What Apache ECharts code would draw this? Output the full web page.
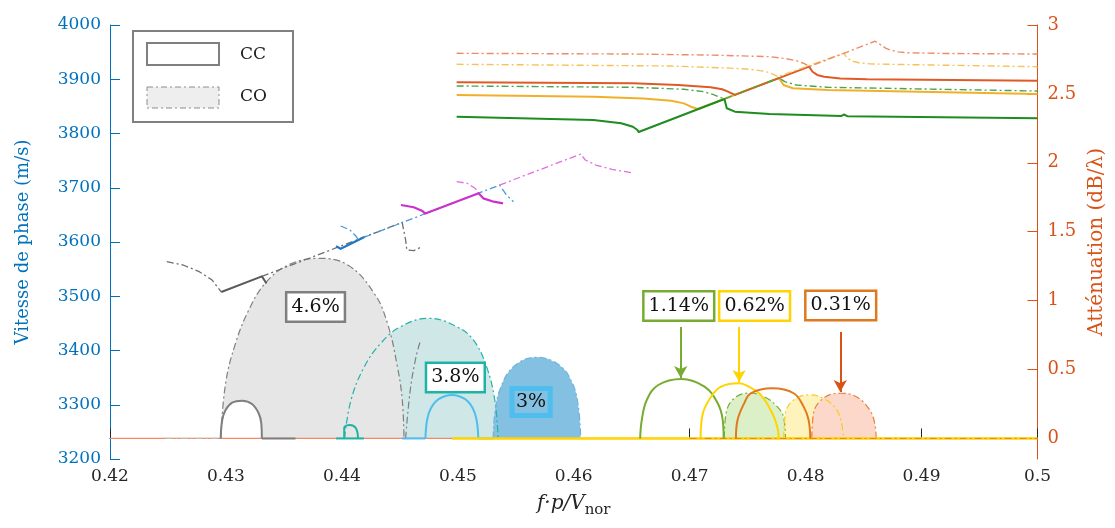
<!DOCTYPE html>
<html><head><meta charset="utf-8">
<script src="https://cdn.jsdelivr.net/npm/echarts@6/dist/echarts.min.js"></script>
<style>html,body{margin:0;padding:0;background:#fff}#c{width:1115px;height:528px}</style>
</head><body><div id="c"></div>
<script>
// ---------------- DATA ----------------
const xTicks = [0.42,0.43,0.44,0.45,0.46,0.47,0.48,0.49,0.5];
const leftTicks = [3200,3300,3400,3500,3600,3700,3800,3900,4000];
const rightTicks = [0,0.5,1,1.5,2,2.5,3];

// phase velocity curves (m/s)
const grayDashLeft = [[0.4249,3563.7],[0.4263,3557.6],[0.4277,3545.3],[0.4288,3530.0],[0.4296,3507.8]];
const graySolidDiag = [[0.4296,3507.8],[0.4331,3536.6],[0.4335,3523.5]];
const grayDashDiag = [[0.4331,3536.6],[0.4452,3636.0],[0.4455,3603.7],[0.4456,3585.3],[0.4462,3584.0],[0.4469,3591.3]];
const blueDashArc = [[0.4399,3629.5],[0.4407,3622.1],[0.4412,3611.1],[0.4414,3604.8]];
const blueSolid = [[0.4395,3592.0],[0.4399,3587.5],[0.4419,3608.7]];
const blueDashDiag = [[0.4419,3608.7],[0.4536,3704.9],[0.4542,3686.6],[0.4548,3674.3]];
const magentaSolid = [[0.4451,3668.2],[0.4462,3664.0],[0.4469,3657.7],[0.4472,3652.4],[0.4518,3689.7],[0.4522,3680.5],[0.4531,3674.3],[0.4539,3671.2]];
const magentaDashA = [[0.4499,3711.2],[0.4508,3708.2],[0.4515,3699.0],[0.4518,3689.7]];
const magentaDashB = [[0.4536,3704.9],[0.4606,3762.1],[0.4610,3751.2],[0.4619,3741.9],[0.4633,3734.0],[0.4650,3727.7]];
const redDash = [[0.4499,3947.8],[0.4651,3946.5],[0.4720,3944.5],[0.4769,3941.6],[0.4783,3938.0],[0.4792,3934.2],[0.4798,3929.5],[0.4801,3926.3],[0.4803,3923.2],[0.4860,3970.1],[0.4865,3963.1],[0.4869,3957.5],[0.4873,3953.9],[0.4880,3950.5],[0.4887,3948.9],[0.4920,3947.5],[0.5,3946.5]];
const redSolid = [[0.4499,3894.4],[0.4651,3892.5],[0.4690,3889.5],[0.4718,3885.2],[0.4728,3881.5],[0.4733,3877.1],[0.4739,3871.2],[0.4803,3923.2],[0.4806,3913.9],[0.4810,3908.0],[0.4816,3904.7],[0.4830,3901.5],[0.4853,3899.9],[0.5,3897.3]];
const yellowDash = [[0.4499,3927.6],[0.4684,3924.4],[0.4735,3920.5],[0.4752,3918.3],[0.4762,3915.5],[0.4769,3912.1],[0.4776,3904.7],[0.4777,3902.4],[0.4833,3948.0],[0.4836,3938.6],[0.4840,3933.5],[0.4846,3930.5],[0.4855,3928.5],[0.4870,3927.6],[0.5,3923.1]];
const yellowSolid = [[0.4499,3871.0],[0.4617,3867.8],[0.4660,3864.5],[0.4684,3860.5],[0.4695,3855.5],[0.4701,3849.4],[0.4707,3845.2],[0.4777,3902.4],[0.4781,3889.4],[0.4789,3883.3],[0.4819,3880.2],[0.5,3872.8]];
const greenDash = [[0.4499,3887.6],[0.4651,3885.2],[0.4695,3881.5],[0.4712,3877.1],[0.4720,3872.0],[0.4725,3867.8],[0.4730,3863.6],[0.4777,3902.4],[0.4782,3895.5],[0.4792,3889.4],[0.4819,3885.2],[0.5,3878.3]];
const greenSolid = [[0.4499,3831.0],[0.4617,3824.9],[0.4641,3818.8],[0.4651,3812.5],[0.4655,3806.5],[0.4656,3802.8],[0.4730,3863.6],[0.4732,3846.5],[0.4739,3840.2],[0.4769,3835.9],[0.4831,3832.4],[0.4833,3835.0],[0.4836,3832.0],[0.5,3828.0]];

// attenuation curves (dB/lambda)
const baseAll = [[0.42,0],[0.5,0]];
const grayBaseLeft = [[0.4248,0],[0.4296,0]];
const grayCO = [[0.42955,0],[0.42997,0.400],[0.43083,0.691],[0.43197,0.932],[0.43339,1.126],[0.43538,1.259],[0.43795,1.307],[0.44051,1.259],[0.44279,1.053],[0.44393,0.836],[0.44479,0.521],[0.44521,0.279],[0.44536,0]];
const grayCC = [[0.42955,0],[0.42968,0.134],[0.42997,0.207],[0.43054,0.260],[0.43140,0.274],[0.43225,0.250],[0.43282,0.183],[0.43305,0.110],[0.43310,0]];
const grayBase = [[0.4331,0],[0.4360,0]];
const grayArc2 = [[0.4455,0],[0.4459,0.352],[0.4464,0.593],[0.4468,0.715]];
const tealCC = [[0.4402,0],[0.4402,0.076],[0.4407,0.098],[0.4412,0.076],[0.4414,0]];
const tealBase = [[0.4395,0],[0.4419,0]];
const tealCO = [[0.44023,0],[0.44079,0.279],[0.44194,0.521],[0.44336,0.691],[0.44507,0.811],[0.44750,0.872],[0.44991,0.811],[0.45134,0.715],[0.45248,0.521],[0.45319,0.279],[0.45348,0]];
const blueCC = [[0.44721,0],[0.44735,0.134],[0.44769,0.221],[0.44838,0.287],[0.44949,0.316],[0.45060,0.287],[0.45128,0.221],[0.45162,0.134],[0.45177,0]];
const blueBaseA = [[0.4452,0],[0.4472,0]];
const blueBaseB = [[0.4518,0],[0.4530,0]];
const blueCO = [[0.45305,0],[0.45319,0.183],[0.45362,0.352],[0.45476,0.517],[0.45675,0.589],[0.45874,0.533],[0.45989,0.400],[0.46040,0.231],[0.46060,0]];
const greenCC = [[0.46573,0],[0.46587,0.134],[0.46630,0.279],[0.46729,0.388],[0.46929,0.432],[0.47128,0.376],[0.47242,0.255],[0.47285,0.134],[0.47293,0]];
const yellowCC = [[0.47094,0],[0.47114,0.183],[0.47185,0.303],[0.47271,0.376],[0.47427,0.400],[0.47498,0.381],[0.47613,0.316],[0.47712,0.183],[0.47755,0.086],[0.47769,0]];
const greenCO = [[0.47299,0],[0.47314,0.183],[0.47385,0.292],[0.47513,0.330],[0.47641,0.303],[0.47755,0.231],[0.47812,0.147],[0.47826,0]];
const orangeCC = [[0.47399,0],[0.47413,0.134],[0.47470,0.255],[0.47527,0.328],[0.47712,0.364],[0.47897,0.328],[0.47983,0.231],[0.48026,0.134],[0.48040,0]];
const yellowCO = [[0.47812,0],[0.47826,0.183],[0.47897,0.279],[0.48026,0.316],[0.48154,0.292],[0.48268,0.207],[0.48310,0.110],[0.48325,0]];
const orangeCO = [[0.48054,0],[0.48068,0.183],[0.48154,0.292],[0.48297,0.328],[0.48438,0.303],[0.48553,0.207],[0.48596,0.110],[0.48609,0]];
const yellowBase = [[0.4495,0],[0.5,0]];
const orangeBaseDash = [[0.4700,0],[0.5,0]];

// annotations
const boxLabels = ['4.6%','3.8%','3%','1.14%','0.62%','0.31%'];
const boxX = [0.43773,0.44979,0.45632,0.46906,0.47560,0.48303];
const boxA = [0.954,0.443,0.265,0.961,0.961,0.965];
const arrowX = [0.46923,0.47427,0.48299];
const arrowFrom = [0.809,0.809,0.773];
const arrowTo = [0.439,0.410,0.337];
const legendLabels = ['CC','CO'];

// ---------------- STYLE ----------------
const SERIF = 'DejaVu Serif';
const DD = [7,3,2,3];
const BLUE = '#0072BD', ORANGE = '#D95319', DARK = '#262626';
const boxBorders = ['#7f7f7f','#1fb3a8','#4dbeee','#77ac30','#ffd400','#e0781e'];
const boxBg = ['#ffffff','#ffffff','transparent','#ffffff','#ffffff','#ffffff'];
const arrowColors = ['#77ac30','#ffd400','#d95319'];

function ln(data, color, width, dash, yIdx, extra) {
  return Object.assign({
    type:'line', data:data, yAxisIndex:yIdx, showSymbol:false, symbol:'none',
    silent:true, animation:false, clip:true,
    lineStyle:{color:color, width:width, type: dash ? DD : 'solid', cap:'butt', join:'round'}
  }, extra || {});
}
function fill(data, color) {
  return ln(data, color, 0, false, 1, {smooth:0.4, areaStyle:{color:color, opacity:1}, lineStyle:{width:0, opacity:0}});
}
const SM = {smooth:0.4};

const series = [
  ln(baseAll, '#ee8a66', 1.2, false, 1, {markLine:{
    silent:true, animation:false, symbol:['none','arrow'], symbolSize:[10,12], label:{show:false},
    data: arrowX.map((x,i)=>[{coord:[x,arrowFrom[i]], lineStyle:{color:arrowColors[i], width:2, type:'solid'}},{coord:[x,arrowTo[i]]}])
  }}),
  ln(grayBaseLeft, '#bdbdbd', 1.2, true, 1),
  // fills
  fill(tealCO, '#cfe8e7'),
  fill(grayCO, '#e6e6e6'),
  fill(blueCO, '#83c0e2'),
  fill(greenCO, '#dcf0c8'),
  fill(yellowCO, '#fff3bd'),
  fill(orangeCO, '#fcd8cb'),
  // CC gray small hump (white inside)
  ln(grayCC, '#7f7f7f', 2, false, 1, {smooth:0.4, areaStyle:{color:'#ffffff', opacity:1}}),
  // CO borders
  ln(tealCO, '#1fb3a8', 1.2, true, 1, SM),
  ln(grayCO, '#7f7f7f', 1.2, true, 1, SM),
  ln(grayArc2, '#7f7f7f', 1.2, true, 1, SM),
  ln(blueCO, '#6fb3dc', 1.2, true, 1, SM),
  ln(greenCO, '#77ac30', 1.2, true, 1, SM),
  ln(yellowCO, '#f5cc20', 1.2, true, 1, SM),
  ln(orangeCO, '#e8803a', 1.2, true, 1, SM),
  // CC humps
  ln(grayBase, '#7f7f7f', 2, false, 1),
  ln(tealBase, '#1fb3a8', 2, false, 1),
  ln(tealCC, '#1fb3a8', 2, false, 1, SM),
  ln(blueBaseA, '#4dbeee', 2, false, 1),
  ln(blueBaseB, '#4dbeee', 2, false, 1),
  ln(blueCC, '#4dbeee', 2, false, 1, SM),
  ln(yellowBase, '#ffd400', 2.5, false, 1),
  ln(orangeBaseDash, '#e8803a', 1, true, 1),
  ln(greenCC, '#77ac30', 2, false, 1, SM),
  ln(yellowCC, '#ffd400', 2, false, 1, SM),
  ln(orangeCC, '#e07a1e', 2, false, 1, SM),
  // velocity curves
  ln(grayDashLeft, '#6e6e6e', 1.3, true, 0),
  ln(grayDashDiag, '#6e6e6e', 1.3, true, 0),
  ln(graySolidDiag, '#5a5a5a', 2, false, 0),
  ln(blueDashDiag, '#4b9ad6', 1.3, true, 0),
  ln(blueDashArc, '#4b9ad6', 1.3, true, 0),
  ln(blueSolid, '#1f77c4', 2.2, false, 0),
  ln(magentaDashA, '#e070e0', 1.3, true, 0),
  ln(magentaDashB, '#e070e0', 1.3, true, 0),
  ln(magentaSolid, '#cc2fcc', 2.2, false, 0),
  ln(yellowSolid, '#f2b02a', 2, false, 0),
  ln(redSolid, '#e05a28', 2, false, 0),
  ln(greenDash, '#4aa64a', 1.4, true, 0),
  ln(yellowDash, '#f5c35a', 1.4, true, 0),
  ln(redDash, '#ee8a66', 1.4, true, 0),
  ln(greenSolid, '#1e8c1e', 2, false, 0),
  // label boxes
  {
    type:'scatter', yAxisIndex:1, symbolSize:2, itemStyle:{color:'rgba(0,0,0,0)', opacity:1}, silent:true, animation:false, z:10,
    data: boxLabels.map((t,i)=>({value:[boxX[i],boxA[i]], name:t,
      label:{borderColor:boxBorders[i], backgroundColor:boxBg[i]}})),
    label:{show:true, position:'inside', formatter:p=>p.name, fontSize:19, fontFamily:SERIF, opacity:1,
      color:'#111', borderWidth:2.5, padding:[5,4,3,4], backgroundColor:'#fff'},
    labelLayout:{hideOverlap:false}
  }
];

const chart = echarts.init(document.getElementById('c'));
chart.setOption({
  animation:false,
  backgroundColor:'#ffffff',
  textStyle:{fontFamily:SERIF},
  grid:{left:110, right:69, top:25, bottom:69, containLabel:false},
  xAxis:{
    type:'value', min:xTicks[0], max:xTicks[xTicks.length-1], interval:0.01,
    axisLine:{show:true, lineStyle:{color:DARK, width:1}},
    axisTick:{show:true, inside:true, length:10, lineStyle:{color:DARK}},
    axisLabel:{color:DARK, fontSize:17, fontFamily:SERIF, margin:9, formatter:v=>String(+(+v).toFixed(2))},
    splitLine:{show:false},
    name:'{i|f·p/V}{s|nor}', nameLocation:'middle', nameGap:30,
    nameTextStyle:{rich:{
      i:{fontFamily:SERIF, fontStyle:'italic', fontSize:20, color:DARK},
      s:{fontFamily:SERIF, fontSize:15, color:DARK, padding:[14,0,0,0]}
    }}
  },
  yAxis:[
    {
      type:'value', min:leftTicks[0], max:leftTicks[leftTicks.length-1], interval:100, position:'left',
      axisLine:{show:true, lineStyle:{color:BLUE, width:1}},
      axisTick:{show:true, inside:true, length:10, lineStyle:{color:BLUE}},
      axisLabel:{color:BLUE, fontSize:17, fontFamily:SERIF, margin:9, formatter:v=>String(v)},
      splitLine:{show:false},
      name:'Vitesse de phase (m/s)', nameLocation:'middle', nameRotate:90, nameGap:78,
      nameTextStyle:{color:BLUE, fontSize:18, fontFamily:SERIF}
    },
    {
      type:'value', min:-0.149, max:3, position:'right',
      axisLine:{show:true, lineStyle:{color:ORANGE, width:1}},
      axisTick:{show:true, inside:true, length:10, customValues:rightTicks, lineStyle:{color:ORANGE}},
      axisLabel:{color:ORANGE, fontSize:18, fontFamily:SERIF, margin:10, customValues:rightTicks, formatter:v=>String(v)},
      splitLine:{show:false},
      name:'Atténuation (dB/λ)', nameLocation:'middle', nameRotate:90, nameGap:44,
      nameTextStyle:{color:ORANGE, fontSize:20, fontFamily:SERIF}
    }
  ],
  graphic:[
    {type:'rect', z:100, shape:{x:133,y:31,width:160,height:91}, style:{fill:'#fff', stroke:'#808080', lineWidth:2}},
    {type:'rect', z:101, shape:{x:147,y:43,width:72,height:22}, style:{fill:'#fff', stroke:'#7f7f7f', lineWidth:2}},
    {type:'text', z:101, x:240, y:55, style:{text:legendLabels[0], font:'17px "DejaVu Serif"', fill:'#222', verticalAlign:'middle', textVerticalAlign:'middle'}},
    {type:'rect', z:101, shape:{x:147,y:87,width:72,height:21}, style:{fill:'#eeeeee', stroke:'#8c8c8c', lineWidth:1, lineDash:[6,3,2,3]}},
    {type:'text', z:101, x:240, y:97, style:{text:legendLabels[1], font:'17px "DejaVu Serif"', fill:'#222', verticalAlign:'middle', textVerticalAlign:'middle'}}
  ],
  series: series
});
</script>
</body></html>
